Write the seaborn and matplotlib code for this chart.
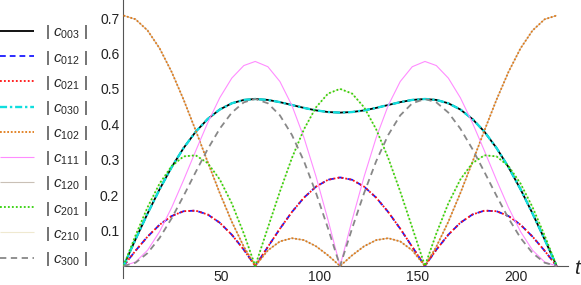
#!/usr/bin/env python3
# coding: utf-8

import seaborn as sns
import matplotlib
from matplotlib import pyplot as plt
from matplotlib.ticker import MultipleLocator, FixedLocator

# values (curves are symmetric about t ~ 110.5)
t = [0, 6.14, 12.28, 18.42, 24.56, 30.69, 36.83, 42.97, 49.11, 55.25, 61.39,
     67.20, 73.67, 79.81, 85.94, 92.08, 98.22, 104.36, 110.50, 116.64, 122.78,
     128.92, 135.06, 141.19, 147.33, 153.80, 159.61, 165.75, 171.89, 178.03,
     184.17, 190.31, 196.44, 202.58, 208.72, 214.86, 221.00]

c003 = [0, 0.0752, 0.1481, 0.2166, 0.2789, 0.3333, 0.3789, 0.4150, 0.4417, 0.4593,
        0.4688, 0.4714, 0.4688, 0.4625, 0.4545, 0.4463, 0.4393, 0.4346, 0.4330,
        0.4346, 0.4393, 0.4463, 0.4545, 0.4625, 0.4688, 0.4714, 0.4688, 0.4593,
        0.4417, 0.4150, 0.3789, 0.3333, 0.2789, 0.2166, 0.1481, 0.0752, 0]
c030 = list(c003)

c012 = [0, 0.0431, 0.0829, 0.1164, 0.1410, 0.1547, 0.1563, 0.1453, 0.1222, 0.0884,
        0.0459, 0, 0.0541, 0.1052, 0.1525, 0.1930, 0.2239, 0.2434, 0.2500,
        0.2434, 0.2239, 0.1930, 0.1525, 0.1052, 0.0541, 0, 0.0459, 0.0884,
        0.1222, 0.1453, 0.1563, 0.1547, 0.1410, 0.1164, 0.0829, 0.0431, 0]
c021 = list(c012)

c102 = [0.7071, 0.6964, 0.6649, 0.6144, 0.5479, 0.4692, 0.3827, 0.2934, 0.2060, 0.1250,
        0.0544, 0, 0.0442, 0.0694, 0.0785, 0.0731, 0.0558, 0.0301, 0,
        0.0301, 0.0558, 0.0731, 0.0785, 0.0694, 0.0442, 0, 0.0544, 0.1250,
        0.2060, 0.2934, 0.3827, 0.4692, 0.5479, 0.6144, 0.6649, 0.6964, 0.7071]
c120 = list(c102)

c111 = [0, 0.0114, 0.0445, 0.0971, 0.1649, 0.2428, 0.3248, 0.4042, 0.4748, 0.5303,
        0.5658, 0.5774, 0.5625, 0.5207, 0.4530, 0.3622, 0.2526, 0.1297, 0,
        0.1297, 0.2526, 0.3622, 0.4530, 0.5207, 0.5625, 0.5774, 0.5658, 0.5303,
        0.4748, 0.4042, 0.3248, 0.2428, 0.1649, 0.0971, 0.0445, 0.0114, 0]

c201 = [0, 0.0862, 0.1658, 0.2328, 0.2820, 0.3094, 0.3125, 0.2905, 0.2444, 0.1768,
        0.0917, 0, 0.1083, 0.2103, 0.3050, 0.3859, 0.4479, 0.4867, 0.5000,
        0.4867, 0.4479, 0.3859, 0.3050, 0.2103, 0.1083, 0, 0.0917, 0.1768,
        0.2444, 0.2905, 0.3125, 0.3094, 0.2820, 0.2328, 0.1658, 0.0862, 0]
c210 = list(c201)

c300 = [0, 0.0093, 0.0364, 0.0792, 0.1346, 0.1983, 0.2652, 0.3301, 0.3876, 0.4330,
        0.4620, 0.4714, 0.4593, 0.4252, 0.3699, 0.2958, 0.2063, 0.1059, 0,
        0.1059, 0.2063, 0.2958, 0.3699, 0.4252, 0.4593, 0.4714, 0.4620, 0.4330,
        0.3876, 0.3301, 0.2652, 0.1983, 0.1346, 0.0792, 0.0364, 0.0093, 0]

labels = ["003", "012", "021", "030", "102", "111", "120", "201", "210", "300"]
series = [c003, c012, c021, c030, c102, c111, c120, c201, c210, c300]

# common setup
sns.set_style("white")
plt.rcParams['font.family'] = ['Liberation Sans', 'DejaVu Sans']
plt.rcParams['mathtext.fontset'] = 'custom'
plt.rcParams['mathtext.it'] = 'Liberation Sans:italic'
plt.rcParams['mathtext.rm'] = 'Liberation Sans'
label_size = 10
matplotlib.rcParams['xtick.labelsize'] = label_size
matplotlib.rcParams['ytick.labelsize'] = label_size

# the thin light lines (c120, c210) sit under the dotted ones they coincide with
styles = [
    dict(color="black", lw=1.3, linestyle="-", zorder=3),
    dict(color="#1a1aff", lw=1.3, linestyle=(0, (3.2, 2.2)), zorder=3),
    dict(color="#ff1010", lw=1.3, linestyle=(0, (1, 1.2)), zorder=3),
    dict(color="#10dede", lw=1.7, linestyle=(0, (3, 1.2, 1, 1.2)), zorder=3),
    dict(color="#e07c1a", lw=1.3, linestyle=(0, (1, 1)), zorder=3),
    dict(color="#ff8cff", lw=0.8, linestyle="-", zorder=3),
    dict(color="#c9c0b6", lw=0.8, linestyle="-", zorder=2),
    dict(color="#33d10a", lw=1.3, linestyle=(0, (1, 1.2)), zorder=3),
    dict(color="#efe9d0", lw=0.8, linestyle="-", zorder=2),
    dict(color="#888888", lw=1.3, linestyle=(0, (3.5, 2.5)), zorder=3),
]

fig = plt.figure(figsize=[5.81, 2.85], dpi=100)
ax = fig.add_axes([123.5 / 581, (285 - 278.4) / 285, 444.9 / 581, (278.4 - 0.3) / 285])

for name, vals, st in zip(labels, series, styles):
    sns.lineplot(x=t, y=vals, ax=ax, legend=False, label=r"| $c_{%s}$ |" % name,
                 solid_capstyle="butt", **st)

ax.set_xlim(0, 227)
ax.set_ylim(-0.035, 0.75)
for s in ["top", "right"]:
    ax.spines[s].set_visible(False)
ax.spines["left"].set_position(("data", 0))
ax.spines["bottom"].set_position(("data", 0))
for s in ["left", "bottom"]:
    ax.spines[s].set_color("#555555")
    ax.spines[s].set_linewidth(0.8)

ax.xaxis.set_major_locator(FixedLocator([50, 100, 150, 200]))
ax.xaxis.set_minor_locator(MultipleLocator(10))
ax.yaxis.set_major_locator(FixedLocator([0.1, 0.2, 0.3, 0.4, 0.5, 0.6, 0.7]))
ax.yaxis.set_minor_locator(MultipleLocator(0.02))
ax.set_yticklabels(["0.1", "0.2", "0.3", "0.4", "0.5", "0.6", "0.7"])
ax.tick_params(which="both", direction="in", color="#777777", labelcolor="#222222")
ax.tick_params(which="major", length=4, width=0.7, pad=3)
ax.tick_params(which="minor", length=2.2, width=0.6)
ax.set_xlabel("")
ax.set_ylabel("")
ax.text(231.3, -0.006, "t", style="italic", fontsize=15, ha="center", va="center",
        clip_on=False)

handles, labs = ax.get_legend_handles_labels()
fig.legend(handles, labs, loc="upper left", bbox_to_anchor=(0.0, 0.918),
           frameon=False, fontsize=11, handlelength=2.2, handletextpad=0.75,
           labelspacing=0.47, borderpad=0, borderaxespad=0)

plt.savefig("out.png", dpi=100)
